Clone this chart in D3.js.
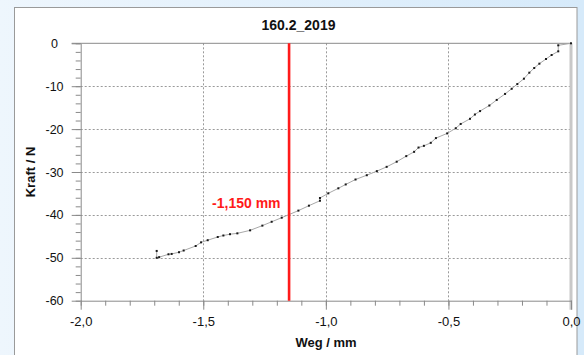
<!DOCTYPE html>
<html>
<head>
<meta charset="utf-8">
<script src="https://cdn.jsdelivr.net/npm/d3@7"></script>
<style>
  html, body { margin: 0; padding: 0; }
  body { width: 584px; height: 355px; overflow: hidden; }
  svg { display: block; font-family: "Liberation Sans", Arial, sans-serif; }
</style>
</head>
<body>
<svg id="chart" width="584" height="355"></svg>
<script>
// ---- data ----
const chartTitle = "160.2_2019";
const xLabel = "Weg / mm";
const yLabel = "Kraft / N";
const markerValue = -1.150;
const markerLabel = "-1,150 mm";

const weg = [0.000, -0.052, -0.052, -0.079, -0.102, -0.129, -0.150, -0.170, -0.192, -0.219,
  -0.242, -0.269, -0.303, -0.333, -0.371, -0.392, -0.412, -0.450, -0.470, -0.505,
  -0.551, -0.572, -0.600, -0.622, -0.640, -0.672, -0.711, -0.752, -0.792, -0.833,
  -0.879, -0.919, -0.949, -0.990, -1.024, -1.024, -1.069, -1.112, -1.180, -1.221,
  -1.259, -1.309, -1.361, -1.391, -1.418, -1.441, -1.482, -1.509, -1.531, -1.580,
  -1.599, -1.629, -1.642, -1.680, -1.690, -1.690];
const kraft = [0, -0.47, -1.87, -2.73, -3.66, -4.75, -5.76, -6.85, -8.25, -9.5,
  -10.6, -11.8, -13.2, -14.5, -15.8, -16.6, -17.6, -18.8, -19.8, -21.0,
  -22.1, -23.2, -23.9, -24.3, -25.3, -26.3, -27.6, -28.8, -29.8, -30.75,
  -31.75, -32.9, -33.8, -34.97, -36.06, -36.7, -37.85, -39.0, -40.65, -41.6,
  -42.5, -43.6, -44.3, -44.5, -44.8, -45.15, -45.9, -46.4, -47.25, -48.3,
  -48.7, -49.1, -49.18, -49.85, -50.0, -48.4];

const xTicks = [-2.0, -1.5, -1.0, -0.5, 0.0];
const yTicks = [0, -10, -20, -30, -40, -50, -60];
const xGrid = [-1.5, -1.0, -0.5];
const yGrid = [-10, -20, -30, -40, -50];

// ---- layout ----
const svg = d3.select("#chart");
const L = 80.7, R = 571, T = 43.3, B = 300.7;
const x = d3.scaleLinear().domain([-2, 0]).range([L, R]);
const y = d3.scaleLinear().domain([-60, 0]).range([B, T]);
const fmtX = v => d3.format(".1f")(v).replace(".", ",").replace("−", "-");
const fmtY = v => d3.format("d")(v).replace("−", "-");

// background
const defs = svg.append("defs");
const grad = defs.append("linearGradient").attr("id", "bg").attr("x1", "0").attr("x2", "1").attr("y1", "0").attr("y2", "0");
grad.append("stop").attr("offset", "0").attr("stop-color", "#eef6fd");
grad.append("stop").attr("offset", "1").attr("stop-color", "#d6eafa");
svg.append("rect").attr("width", 584).attr("height", 355).attr("fill", "url(#bg)");
svg.append("rect").attr("x", 14.5).attr("y", 7.5).attr("width", 562.5).attr("height", 360)
  .attr("fill", "#fff").attr("stroke", "#9a9a9a").attr("stroke-width", 1);

// gridlines
svg.append("g").selectAll("line").data(xGrid).join("line")
  .attr("x1", d => Math.round(x(d)) + 0.5).attr("x2", d => Math.round(x(d)) + 0.5)
  .attr("y1", T).attr("y2", B)
  .attr("stroke", "#9a9a9a").attr("stroke-width", 1).attr("stroke-dasharray", "2,2");
svg.append("g").selectAll("line").data(yGrid).join("line")
  .attr("x1", L).attr("x2", R)
  .attr("y1", d => Math.round(y(d)) + 0.5).attr("y2", d => Math.round(y(d)) + 0.5)
  .attr("stroke", "#9a9a9a").attr("stroke-width", 1).attr("stroke-dasharray", "2,2");

// right border
svg.append("line").attr("x1", R).attr("x2", R).attr("y1", T).attr("y2", B + 9)
  .attr("stroke", "#c8c8c8").attr("stroke-width", 3);
// top border
svg.append("line").attr("x1", L - 9).attr("x2", R).attr("y1", y(0)).attr("y2", y(0))
  .attr("stroke", "#8a8a8a").attr("stroke-width", 1);

// minor axes
const minorY = d3.range(-60, 0.1, 2);
svg.append("g").attr("transform", `translate(${L},0)`)
  .call(d3.axisLeft(y).tickValues(minorY).tickSize(5).tickFormat(""))
  .call(g => g.select(".domain").remove())
  .call(g => g.selectAll("line").attr("stroke", "#8a8a8a"));
const minorX = d3.range(-20, 1).map(d => d / 10);
svg.append("g").attr("transform", `translate(0,${B})`)
  .call(d3.axisBottom(x).tickValues(minorX).tickSize(5).tickFormat(""))
  .call(g => g.select(".domain").remove())
  .call(g => g.selectAll("line").attr("stroke", "#8a8a8a"));

// major axes
svg.append("g").attr("transform", `translate(${L},0)`)
  .call(d3.axisLeft(y).tickValues(yTicks).tickSize(9).tickSizeOuter(0).tickFormat(fmtY))
  .call(g => g.select(".domain").attr("stroke", "#8a8a8a"))
  .call(g => g.selectAll(".tick line").attr("stroke", "#8a8a8a"))
  .call(g => g.selectAll(".tick text").attr("x", -26.2).attr("text-anchor", "middle")
    .attr("font-size", "12.5px").attr("fill", "#111").attr("font-family", "Liberation Sans, Arial, sans-serif"));
svg.append("g").attr("transform", `translate(0,${B})`)
  .call(d3.axisBottom(x).tickValues(xTicks).tickSize(9).tickSizeOuter(0).tickFormat(fmtX))
  .call(g => g.select(".domain").attr("stroke", "#8a8a8a"))
  .call(g => g.selectAll(".tick line").attr("stroke", "#8a8a8a"))
  .call(g => g.selectAll(".tick text").attr("y", 16).attr("font-size", "13px").attr("fill", "#111")
    .attr("font-family", "Liberation Sans, Arial, sans-serif"));

// data line
const pts = weg.map((w, i) => [w, kraft[i]]);
svg.append("path").datum(pts)
  .attr("d", d3.line().x(d => x(d[0])).y(d => y(d[1])))
  .attr("fill", "none").attr("stroke", "#a8a8a8").attr("stroke-width", 1);
svg.append("g").selectAll("rect").data(pts).join("rect")
  .attr("x", d => x(d[0]) - 1).attr("y", d => y(d[1]) - 1)
  .attr("width", 2).attr("height", 2).attr("fill", "#1a1a1a");

// marker line
svg.append("line").attr("x1", x(markerValue)).attr("x2", x(markerValue)).attr("y1", T).attr("y2", B)
  .attr("stroke", "#ff1a1a").attr("stroke-width", 2.6);
svg.append("text").attr("x", x(markerValue) - 8.5).attr("y", 208)
  .attr("text-anchor", "end").attr("font-size", "14px").attr("font-weight", "bold").attr("fill", "#ff1a1a")
  .text(markerLabel);

// title & labels
svg.append("text").attr("x", 298.5).attr("y", 30).attr("text-anchor", "middle")
  .attr("font-size", "14px").attr("font-weight", "bold").attr("fill", "#111").text(chartTitle);
svg.append("text").attr("x", 326).attr("y", 347).attr("text-anchor", "middle")
  .attr("font-size", "13px").attr("font-weight", "bold").attr("fill", "#111").text(xLabel);
svg.append("text").attr("transform", "translate(35,172) rotate(-90)").attr("text-anchor", "middle")
  .attr("font-size", "13px").attr("font-weight", "bold").attr("fill", "#111").text(yLabel);
</script>
</body>
</html>
